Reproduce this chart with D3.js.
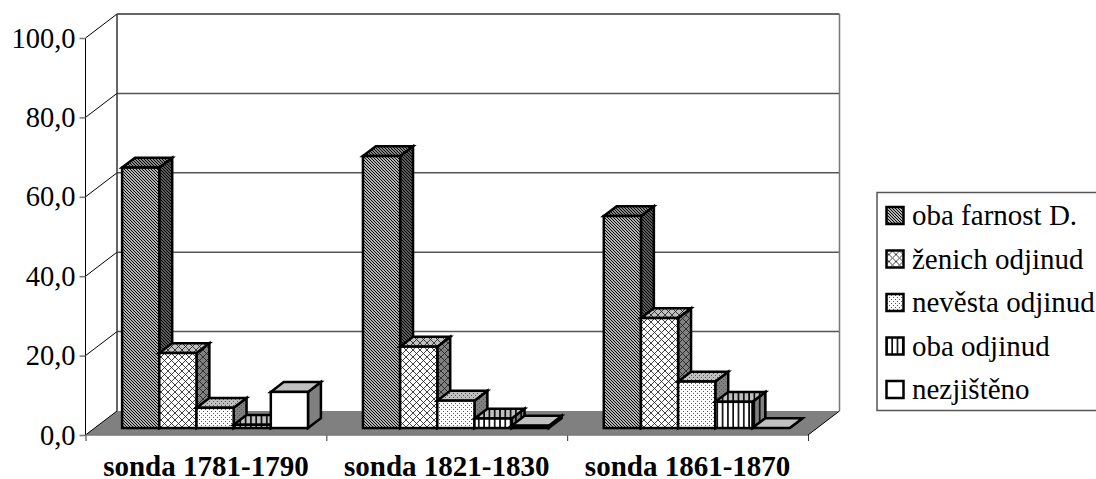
<!DOCTYPE html>
<html lang="cs">
<head>
    <meta charset="UTF-8">
    <title>Sondy</title>
    <script src="https://d3js.org/d3.v7.min.js"></script>
    <style>
        html, body { margin: 0; padding: 0; background: #fff; overflow: hidden; }
        svg text { font-family: "Liberation Serif", serif; fill: #000; }
        .domain { display: none; }
    </style>
</head>
<body>
<div id="chart"></div>
<script>
    // Data
    const categories = ["sonda 1781-1790", "sonda 1821-1830", "sonda 1861-1870"];
    const seriesNames = ["oba farnost D.", "ženich odjinud", "nevěsta odjinud", "oba odjinud", "nezjištěno"];
    const obaFarnost = [65.6, 68.5, 53.4];
    const zenichOdjinud = [18.9, 20.5, 27.7];
    const nevestaOdjinud = [5.1, 6.9, 11.7];
    const obaOdjinud = [0.8, 2.4, 6.6];
    const nezjisteno = [9.1, 0.6, 0.0];
    const seriesValues = [obaFarnost, zenichOdjinud, nevestaOdjinud, obaOdjinud, nezjisteno];
    const yTicks = [0, 20, 40, 60, 80, 100];

    const width = 1096, height = 479;

    // 3D box of the plot: front plane plus a depth offset to the back wall
    const front = { left: 85.5, right: 808, bottom: 435, top: 38 };
    const depth = { dx: 31.5, dy: -24 };
    const barDepthStart = 0.29, barDepthEnd = 0.70; // share of the floor depth taken by a bar

    const svg = d3.select("#chart").append("svg")
        .attr("width", width)
        .attr("height", height);

    const yScale = d3.scaleLinear().domain([0, 100]).range([front.bottom, front.top]);
    const xGroup = d3.scaleBand().domain(categories).range([front.left, front.right]);
    const xBar = d3.scaleBand().domain(d3.range(seriesNames.length))
        .range([0, xGroup.bandwidth()])
        .paddingInner(0).paddingOuter(0.739);

    // Hatch patterns, one per series and per face shade
    const defs = svg.append("defs");
    const painters = [
        // fine diagonal
        (p, bg) => {
            p.attr("width", 3).attr("height", 3);
            p.append("rect").attr("width", 3).attr("height", 3).attr("fill", bg);
            p.append("path").attr("d", "M-1 -1L4 4M-1 2L1 4M2 -1L4 1")
                .attr("stroke", "#000").attr("stroke-width", 1.15).attr("fill", "none");
        },
        // lattice
        (p, bg) => {
            p.attr("width", 7).attr("height", 7);
            p.append("rect").attr("width", 7).attr("height", 7).attr("fill", bg);
            p.append("path").attr("d", "M0 0L7 7M7 0L0 7")
                .attr("stroke", "#222").attr("stroke-width", 0.85).attr("fill", "none");
        },
        // dots
        (p, bg) => {
            p.attr("width", 4).attr("height", 4);
            p.append("rect").attr("width", 4).attr("height", 4).attr("fill", bg);
            p.append("path").attr("d", "M1 1h1v1h-1zM3 3h1v1h-1z").attr("fill", "#555");
        },
        // vertical lines
        (p, bg) => {
            p.attr("width", 5.3).attr("height", 5);
            p.append("rect").attr("width", 5.3).attr("height", 5).attr("fill", bg);
            p.append("rect").attr("x", 1).attr("width", 1.6).attr("height", 5).attr("fill", "#000");
        },
        // plain
        (p, bg) => {
            p.attr("width", 4).attr("height", 4);
            p.append("rect").attr("width", 4).attr("height", 4).attr("fill", bg);
        }
    ];
    const shades = { front: "#ffffff", top: "#c0c0c0", side: "#808080" };
    painters.forEach((paint, i) => {
        Object.entries(shades).forEach(([face, bg]) => {
            const p = defs.append("pattern")
                .attr("id", `hatch-${i}-${face}`)
                .attr("patternUnits", "userSpaceOnUse");
            paint(p, bg);
        });
    });

    // Back wall, gridlines and floor
    const wall = svg.append("g");
    wall.append("polygon")
        .attr("points", [
            [front.left, front.bottom],
            [front.left + depth.dx, front.bottom + depth.dy],
            [front.right + depth.dx, front.bottom + depth.dy],
            [front.right, front.bottom]
        ].join(" "))
        .attr("fill", "#808080");

    wall.selectAll("line.grid").data(yTicks.slice(1)).join("line")
        .attr("class", "grid")
        .attr("x1", front.left + depth.dx)
        .attr("x2", front.right + depth.dx)
        .attr("y1", d => yScale(d) + depth.dy)
        .attr("y2", d => yScale(d) + depth.dy)
        .attr("stroke", d => d === 100 ? "#333" : "#555")
        .attr("stroke-width", 1.5);

    wall.selectAll("line.side").data(yTicks).join("line")
        .attr("class", "side")
        .attr("x1", front.left)
        .attr("x2", front.left + depth.dx)
        .attr("y1", d => yScale(d))
        .attr("y2", d => yScale(d) + depth.dy)
        .attr("stroke", "#000")
        .attr("stroke-width", 1);

    // wall edges
    wall.append("line")
        .attr("x1", front.left).attr("x2", front.left)
        .attr("y1", yScale(0)).attr("y2", yScale(100))
        .attr("stroke", "#000").attr("stroke-width", 1);
    wall.append("line")
        .attr("x1", front.left + depth.dx).attr("x2", front.left + depth.dx)
        .attr("y1", yScale(0) + depth.dy).attr("y2", yScale(100) + depth.dy)
        .attr("stroke", "#333").attr("stroke-width", 1.5);
    wall.append("line")
        .attr("x1", front.right + depth.dx).attr("x2", front.right + depth.dx)
        .attr("y1", yScale(0) + depth.dy).attr("y2", yScale(100) + depth.dy)
        .attr("stroke", "#777").attr("stroke-width", 1.5);
    wall.append("line")
        .attr("x1", front.right).attr("x2", front.right + depth.dx)
        .attr("y1", yScale(0)).attr("y2", yScale(0) + depth.dy)
        .attr("stroke", "#000").attr("stroke-width", 1);

    // Axes
    const yAxis = d3.axisLeft(yScale)
        .tickValues(yTicks)
        .tickSize(6)
        .tickPadding(4)
        .tickFormat(d => d3.format(".1f")(d).replace(".", ","));
    const gy = svg.append("g")
        .attr("transform", `translate(${front.left},0)`)
        .call(yAxis);
    gy.selectAll("text").attr("font-size", 28.5).style("font-family", "Liberation Serif");
    gy.selectAll("line").attr("stroke", "#777").attr("stroke-width", 1.5);

    const xEdges = d3.scaleLinear().domain([0, categories.length]).range([front.left, front.right]);
    const gxTicks = svg.append("g")
        .attr("transform", `translate(0,${front.bottom})`)
        .call(d3.axisBottom(xEdges).tickValues(d3.range(categories.length + 1)).tickSize(6).tickFormat(""));
    gxTicks.selectAll("line").attr("stroke", "#333");
    svg.append("line")
        .attr("x1", front.left).attr("x2", front.right)
        .attr("y1", front.bottom).attr("y2", front.bottom)
        .attr("stroke", "#777").attr("stroke-width", 1.5);

    const gx = svg.append("g")
        .attr("transform", `translate(0,${front.bottom})`)
        .call(d3.axisBottom(xGroup).tickSize(0).tickPadding(20.5));
    gx.selectAll("text")
        .attr("font-size", 29)
        .attr("font-weight", "bold")
        .style("font-family", "Liberation Serif");

    // Bars: left to right so later boxes overlap earlier side faces
    const bars = svg.append("g");
    const barDx = depth.dx * (barDepthEnd - barDepthStart);
    const barDy = depth.dy * (barDepthEnd - barDepthStart);
    const baseDx = depth.dx * barDepthStart;
    const baseDy = depth.dy * barDepthStart;

    categories.forEach((cat, c) => {
        seriesValues.forEach((values, s) => {
            const x0 = xGroup(cat) + xBar(s) + baseDx;
            const x1 = x0 + xBar.bandwidth();
            const y0 = yScale(0) + baseDy;
            const y1 = yScale(values[c]) + baseDy;
            const box = bars.append("g")
                .attr("stroke", "#000")
                .attr("stroke-width", 2.5)
                .attr("stroke-linejoin", "miter");
            box.append("polygon")
                .attr("points", [[x1, y1], [x1 + barDx, y1 + barDy], [x1 + barDx, y0 + barDy], [x1, y0]].join(" "))
                .attr("fill", `url(#hatch-${s}-side)`);
            box.append("polygon")
                .attr("points", [[x0, y1], [x0 + barDx, y1 + barDy], [x1 + barDx, y1 + barDy], [x1, y1]].join(" "))
                .attr("fill", `url(#hatch-${s}-top)`);
            box.append("rect")
                .attr("x", x0).attr("y", y1)
                .attr("width", x1 - x0).attr("height", y0 - y1)
                .attr("fill", `url(#hatch-${s}-front)`);
        });
    });

    // Legend
    const legend = svg.append("g");
    legend.append("rect")
        .attr("x", 877).attr("y", 192.5)
        .attr("width", 240).attr("height", 218)
        .attr("fill", "#fff")
        .attr("stroke", "#555").attr("stroke-width", 1.5);
    const legendRow = d3.scalePoint().domain(d3.range(seriesNames.length)).range([225, 399]);
    const rows = legend.selectAll("g.row").data(seriesNames).join("g")
        .attr("class", "row")
        .attr("transform", (d, i) => `translate(0,${legendRow(i)})`);
    rows.append("rect")
        .attr("x", 886.5).attr("y", -18)
        .attr("width", 17).attr("height", 17)
        .attr("fill", (d, i) => `url(#hatch-${i}-front)`)
        .attr("stroke", "#000").attr("stroke-width", 2.5);
    rows.append("text")
        .attr("x", 912)
        .attr("font-size", 29)
        .text(d => d);
</script>
</body>
</html>
